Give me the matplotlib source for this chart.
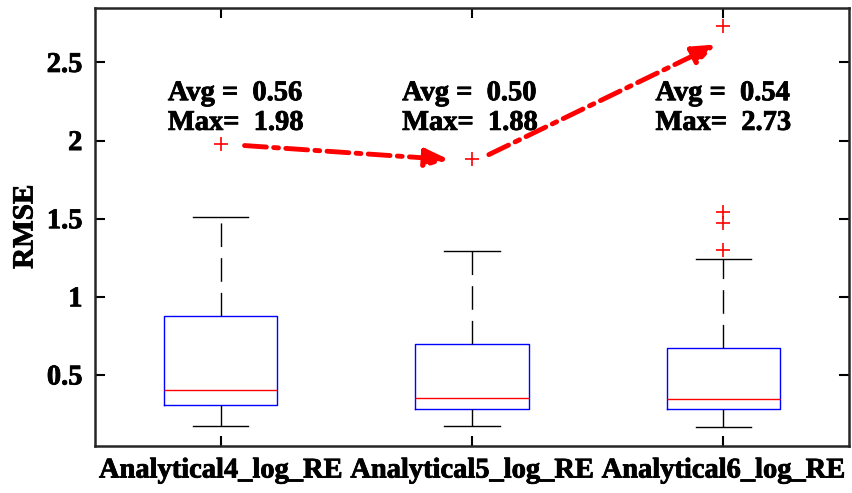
import matplotlib.pyplot as plt
import matplotlib.patheffects as pe

plt.rcParams['font.family'] = ['Liberation Serif', 'DejaVu Serif']
plt.rcParams['font.weight'] = 'bold'

# data
labels = ['Analytical4_log_RE', 'Analytical5_log_RE', 'Analytical6_log_RE']
q1 = [0.308, 0.282, 0.282]
med = [0.404, 0.353, 0.346]
q3 = [0.878, 0.700, 0.673]
whislo = [0.173, 0.173, 0.167]
whishi = [1.51, 1.295, 1.244]
fliers = [[1.98], [1.88], [1.30, 1.47, 1.54, 2.73]]
avg = [0.56, 0.50, 0.54]

stats = []
for i in range(3):
    stats.append(dict(label=labels[i], q1=q1[i], med=med[i], q3=q3[i],
                      whislo=whislo[i], whishi=whishi[i], fliers=fliers[i]))

fig = plt.figure(figsize=(8.52, 4.93), dpi=100)
ax = fig.add_axes([0.1115, 0.0953, 0.885, 0.889])

ax.bxp(stats, positions=[1, 2, 3], widths=0.45, showfliers=True,
       boxprops=dict(color='blue', lw=1),
       medianprops=dict(color='red', lw=1),
       whiskerprops=dict(color='black', lw=1, linestyle=(0, (17, 8))),
       capprops=dict(color='black', lw=1),
       capwidths=0.22,
       flierprops=dict(marker='+', markeredgecolor='red', markersize=10, markeredgewidth=1.2))

ax.set_xlim(0.5, 3.5)
ax.set_ylim(0.045, 2.85)
ax.set_yticks([0.5, 1, 1.5, 2, 2.5])
ax.set_yticklabels(['0.5', '1', '1.5', '2', '2.5'])
ax.tick_params(direction='in', length=7, width=1.5, labelsize=20.5, top=True, right=True)
ax.tick_params(axis='x', pad=9)
ax.tick_params(axis='y', pad=9)
for s in ax.spines.values():
    s.set_linewidth(1.8)
    s.set_color('#262626')
ax.set_ylabel('RMSE', fontsize=21, fontweight='bold', labelpad=6)

thick = [pe.withStroke(linewidth=0.6, foreground='black')]
for t in ax.get_xticklabels() + ax.get_yticklabels() + [ax.yaxis.label]:
    t.set_path_effects(thick)

# avg / max text
text_x = [0.79, 1.722, 2.73]
for i in range(3):
    ax.text(text_x[i], 2.30, 'Avg =  %.2f' % avg[i], fontsize=20.5, fontweight='bold',
            va='center', path_effects=thick)
    ax.text(text_x[i], 2.11, 'Max=  %.2f' % max(fliers[i]), fontsize=20.5, fontweight='bold',
            va='center', path_effects=thick)

# dash-dot arrows between maxima
arrows = [((1.095, 1.968), (1.909, 1.878)), ((2.067, 1.91), (2.972, 2.615))]
for (x0, y0), (x1, y1) in arrows:
    ax.annotate('', xy=(x1, y1), xytext=(x0, y0),
                arrowprops=dict(arrowstyle='-|>,head_length=1.4,head_width=0.55', color='red', lw=3.5,
                                linestyle=(0, (4.5, 1.5, 1, 1.5)), shrinkA=0, shrinkB=0))

fig.savefig('out.png', dpi=100)
